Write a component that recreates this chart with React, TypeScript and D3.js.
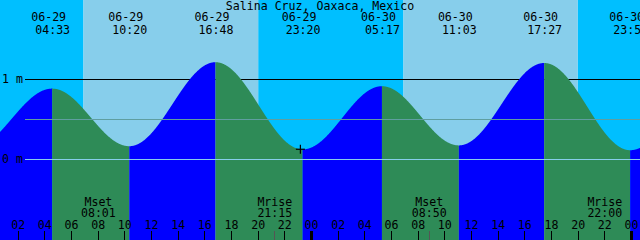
import React from "react";
import * as d3 from "d3";

const W = 640;
const H = 240;
const title = "Salina Cruz, Oaxaca, Mexico";

// tide extremes shown on the chart
const tideDates = ["06-29", "06-29", "06-29", "06-29", "06-30", "06-30", "06-30", "06-30"];
const tideTimes = ["04:33", "10:20", "16:48", "23:20", "05:17", "11:03", "17:27", "23:54"];
const tideHeights = [0.88, 0.16, 1.21, 0.12, 0.91, 0.17, 1.2, 0.11];
// extremes just outside the visible window
const edgeDates = ["06-28", "07-01"];
const edgeTimes = ["22:30", "06:00"];
const edgeHeights = [0.13, 0.92];

// sun
const sunriseDates = ["06-29", "06-30"];
const sunriseTimes = ["06:54", "06:54"];
const sunsetDates = ["06-29", "06-30"];
const sunsetTimes = ["20:00", "19:57"];

// moon
const moonLabels = ["Mset", "Mrise", "Mset", "Mrise"];
const moonDates = ["06-29", "06-29", "06-30", "06-30"];
const moonTimes = ["08:01", "21:15", "08:50", "22:00"];

const nowDate = "06-29";
const nowTime = "23:10";

const yTicks = [0, 0.5, 1];
const yLabels = ["0 m", "", "1 m"];
const hourTicks = [2, 4, 6, 8, 10, 12, 14, 16, 18, 20, 22, 24, 26, 28, 30, 32, 34, 36, 38, 40, 42, 44, 46, 48];

const dayOffset: Record<string, number> = { "06-28": -24, "06-29": 0, "06-30": 24, "07-01": 48 };
const toHours = (d: string, t: string) => {
  const [hh, mm] = t.split(":").map(Number);
  return dayOffset[d] + hh + mm / 60;
};

const FONT = "'DejaVu Sans Mono', monospace";

export default function App() {
  const x = d3.scaleLinear().domain([0, 48]).range([-8.5, -8.5 + 640]);
  const y = d3.scaleLinear().domain([0, 1]).range([159, 79]);

  const extremes = [
    { t: toHours(edgeDates[0], edgeTimes[0]), v: edgeHeights[0] },
    ...tideTimes.map((tm, i) => ({ t: toHours(tideDates[i], tm), v: tideHeights[i] })),
    { t: toHours(edgeDates[1], edgeTimes[1]), v: edgeHeights[1] },
  ];

  const level = (t: number) => {
    for (let i = 0; i < extremes.length - 1; i++) {
      const a = extremes[i], b = extremes[i + 1];
      if (t >= a.t && t <= b.t) {
        const f = (t - a.t) / (b.t - a.t);
        return a.v + (b.v - a.v) * (1 - Math.cos(Math.PI * f)) / 2;
      }
    }
    return 0;
  };

  const area = d3
    .area<{ t: number; v: number }>()
    .x((d) => x(d.t))
    .y0(H)
    .y1((d) => y(d.v));

  const segments = extremes.slice(0, -1).map((a, i) => {
    const b = extremes[i + 1];
    const pts = d3.range(a.t, b.t, 0.02).concat([b.t]).map((t) => ({ t, v: level(t) }));
    return { d: area(pts) as string, fill: b.v > a.v ? "#0000FF" : "#2E8B57" };
  });

  const sunrises = sunriseTimes.map((t, i) => toHours(sunriseDates[i], t));
  const sunsets = sunsetTimes.map((t, i) => toHours(sunsetDates[i], t));
  const nights: [number, number][] = [
    [-10, sunrises[0]],
    [sunsets[0], sunrises[1]],
    [sunsets[1], 60],
  ];
  const days: [number, number][] = sunrises.map((s, i) => [s, sunsets[i]]);

  const nowT = toHours(nowDate, nowTime);
  const nx = x(nowT);
  const ny = y(level(nowT));

  const fmt = d3.format("02d");

  return (
    <svg
      width={W}
      height={H}
      style={{ position: "absolute", left: 0, top: 0, display: "block" }}
      fontFamily={FONT}
      fontSize={11.6}
    >
      {nights.map(([a, b], i) => (
        <rect key={"n" + i} x={x(a)} y={0} width={x(b) - x(a)} height={H} fill="#00BFFF" />
      ))}
      {days.map(([a, b], i) => (
        <rect key={"d" + i} x={x(a)} y={0} width={x(b) - x(a)} height={H} fill="#87CEEB" />
      ))}
      <line x1={25} x2={W} y1={y(1)} y2={y(1)} stroke="#000" strokeWidth={1} shapeRendering="crispEdges" />
      {segments.map((s, i) => (
        <path key={"s" + i} d={s.d} fill={s.fill} />
      ))}
      <line x1={25} x2={W} y1={y(0.5)} y2={y(0.5)} stroke="#5F9EA0" strokeWidth={1} shapeRendering="crispEdges" />
      <line x1={25} x2={W} y1={y(0)} y2={y(0)} stroke="#87CEEB" strokeWidth={1} shapeRendering="crispEdges" />
      {yTicks.map((v, i) =>
        yLabels[i] ? (
          <text key={"yl" + i} x={2} y={y(v) + 4} fill="#000">
            {yLabels[i]}
          </text>
        ) : null
      )}
      <g stroke="#000" strokeWidth={1.2}>
        <line x1={nx - 4.5} x2={nx + 4.5} y1={ny} y2={ny} />
        <line x1={nx} x2={nx} y1={ny - 4.5} y2={ny + 4.5} />
      </g>
      <text x={W / 2} y={10} textAnchor="middle" fill="#000">
        {title}
      </text>
      {tideTimes.map((tm, i) => {
        const ex = x(toHours(tideDates[i], tm));
        return (
          <g key={"tl" + i} fill="#000" textAnchor="middle">
            <text x={ex - 3.5} y={21}>{tideDates[i]}</text>
            <text x={ex + 0.5} y={34}>{tm}</text>
          </g>
        );
      })}
      {moonTimes.map((tm, i) => {
        const mx = x(toHours(moonDates[i], tm));
        return (
          <g key={"m" + i}>
            <text x={mx} y={206} textAnchor="middle" fill="#000">{moonLabels[i]}</text>
            <text x={mx} y={217} textAnchor="middle" fill="#000">{tm}</text>
            <line x1={mx} x2={mx} y1={231} y2={H} stroke="#555" strokeWidth={1} shapeRendering="crispEdges" />
          </g>
        );
      })}
      {hourTicks.map((h) => {
        const tx = x(h);
        const mid = h % 24 === 0;
        return (
          <g key={"h" + h}>
            <text x={tx} y={229} textAnchor="middle" fill="#000">{fmt(h % 24)}</text>
            {mid ? (
              <rect x={tx - 1.5} y={231} width={3} height={H - 231} fill="#000" />
            ) : (
              <line x1={tx} x2={tx} y1={231} y2={H} stroke="#000" strokeWidth={1} shapeRendering="crispEdges" />
            )}
          </g>
        );
      })}
    </svg>
  );
}
